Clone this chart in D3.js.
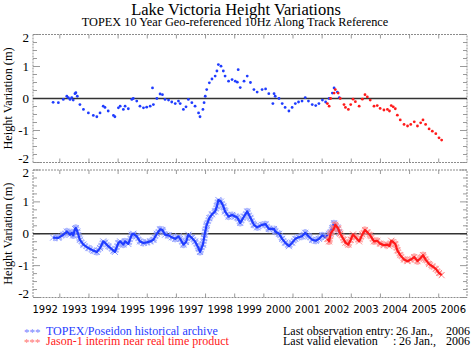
<!DOCTYPE html>
<html>
<head>
<meta charset="utf-8">
<script src="https://cdn.jsdelivr.net/npm/d3@7"></script>
<style>
  html, body { margin: 0; padding: 0; background: #fff; }
  svg { display: block; }
</style>
</head>
<body>
<svg id="chart" width="472" height="349"></svg>
<script>
// ---------------- DATA ----------------
const yearLabels = ["1992","1993","1994","1995","1996","1997","1998","1999","2000","2001","2002","2003","2004","2005","2006"];
const yTicks = [-2, -1, 0, 1, 2];

// TOPEX/Poseidon historical archive: [decimal year, height (m)]
const topex = [
  [1992.77,-0.12],[1992.95,-0.13],[1993.12,-0.03],[1993.24,0.07],[1993.29,0.03],[1993.35,-0.03],
  [1993.41,0.03],[1993.46,-0.05],[1993.52,0.15],[1993.55,0.18],[1993.60,0.07],[1993.69,-0.19],
  [1993.81,-0.34],[1993.98,-0.45],[1994.15,-0.53],[1994.27,-0.57],[1994.38,-0.45],[1994.49,-0.24],
  [1994.55,-0.28],[1994.66,-0.39],[1994.84,-0.53],[1994.89,-0.57],[1995.01,-0.29],[1995.07,-0.24],
  [1995.18,-0.34],[1995.24,-0.24],[1995.35,-0.32],[1995.47,-0.03],[1995.52,0.00],[1995.64,-0.08],
  [1995.75,-0.24],[1995.87,-0.29],[1995.98,-0.27],[1996.10,-0.24],[1996.21,-0.19],[1996.33,0.00],
  [1996.44,0.14],[1996.52,0.12],[1996.61,-0.03],[1996.73,-0.05],[1996.84,-0.11],[1996.96,-0.16],
  [1997.07,-0.08],[1997.13,-0.16],[1997.24,-0.34],[1997.33,-0.26],[1997.41,-0.03],[1997.53,-0.13],
  [1997.64,-0.24],[1997.76,-0.45],[1997.81,-0.57],[1997.91,-0.34],[1997.95,-0.13],[1997.99,0.07],
  [1998.04,0.28],[1998.13,0.49],[1998.22,0.61],[1998.33,0.70],[1998.39,0.86],[1998.44,1.06],
  [1998.53,1.01],[1998.61,0.86],[1998.67,0.70],[1998.79,0.54],[1998.91,0.59],[1999.02,0.54],
  [1999.09,0.51],[1999.19,0.34],[1999.32,0.54],[1999.43,0.70],[1999.54,0.50],[1999.66,0.28],
  [1999.77,0.20],[1999.94,0.28],[2000.06,0.30],[2000.17,0.15],[2000.35,0.15],[2000.39,0.07],
  [2000.52,0.00],[2000.63,-0.16],[2000.73,-0.28],[2000.86,-0.39],[2000.97,-0.28],[2001.08,-0.16],
  [2001.19,-0.11],[2001.31,-0.08],[2001.42,0.03],[2001.53,-0.08],[2001.66,-0.19],[2001.78,-0.22],
  [2001.89,-0.16],[2002.01,-0.05],[2002.12,-0.11],[2002.24,0.00],[2002.35,0.17],[2002.41,0.33],
  [2002.52,0.20],[2002.59,0.03]
];
// isolated TOPEX points shown only in the raw (upper) panel
const topexOutliers = [[1996.18,0.33],[1999.12,0.90],[2000.31,-0.16]];

// Jason-1 interim near real time product
const jason = [
  [2002.18,-0.16],[2002.24,-0.24],[2002.29,0.00],[2002.41,0.17],[2002.45,0.28],[2002.55,0.17],
  [2002.62,0.00],[2002.75,-0.19],[2002.80,-0.28],[2002.90,-0.34],[2002.98,-0.19],[2003.06,-0.02],
  [2003.14,-0.10],[2003.27,-0.24],[2003.38,-0.02],[2003.47,0.12],[2003.55,0.05],[2003.65,-0.05],
  [2003.78,-0.24],[2003.89,-0.22],[2003.99,-0.31],[2004.12,-0.36],[2004.24,-0.34],[2004.31,-0.39],
  [2004.37,-0.22],[2004.44,-0.26],[2004.51,-0.32],[2004.58,-0.52],[2004.68,-0.67],[2004.81,-0.81],
  [2004.93,-0.86],[2005.04,-0.81],[2005.16,-0.73],[2005.27,-0.86],[2005.38,-0.76],[2005.46,-0.67],
  [2005.55,-0.81],[2005.67,-0.95],[2005.78,-1.02],[2005.90,-1.10],[2006.01,-1.23],[2006.10,-1.30]
];

// ---------------- DRAW ----------------
const BLUE = "#1f3cff", RED = "#ff1a1a";
const svg = d3.select("#chart");
const serif = "'Liberation Serif', 'Times New Roman', serif";

const x = d3.scaleLinear().domain([1992.08, 2006.97]).range([33, 467]);

svg.append("text").attr("x", 236).attr("y", 15).attr("text-anchor", "middle")
  .attr("font-family", serif).attr("font-size", 16.5).text("Lake Victoria Height Variations");
svg.append("text").attr("x", 235).attr("y", 25.5).attr("text-anchor", "middle")
  .attr("font-family", serif).attr("font-size", 12.3).text("TOPEX 10 Year Geo-referenced 10Hz Along Track Reference");

function panel(top, bottom, mode) {
  const y = d3.scaleLinear().domain([-2, 2]).range([bottom, top]);
  const g = svg.append("g");
  const [x0, x1] = x.range();

  const quarter = d3.range(-2, 2.001, 0.25);
  quarter.forEach(v => {
    const major = Math.abs(v - Math.round(v)) < 1e-6;
    const len = major ? 7 : 4;
    [[x0, x0 + len], [x1, x1 - len]].forEach(([a, b]) => {
      g.append("line").attr("x1", a).attr("x2", b).attr("y1", y(v)).attr("y2", y(v))
        .attr("stroke", "#9a9a9a").attr("stroke-width", 1);
    });
  });
  d3.range(1993, 2007).forEach(t => {
    [[top, top + 4], [bottom, bottom - 4]].forEach(([a, b]) => {
      g.append("line").attr("x1", x(t)).attr("x2", x(t)).attr("y1", a).attr("y2", b)
        .attr("stroke", "#9a9a9a").attr("stroke-width", 1);
    });
  });
  g.append("rect").attr("x", x0).attr("y", top).attr("width", x1 - x0).attr("height", bottom - top)
    .attr("fill", "none").attr("stroke", "#8c8c8c").attr("stroke-width", 1).attr("stroke-dasharray", "2,1");

  const nudge = d => d === 2 ? 2.5 : d === -2 ? -4 : 0;
  g.selectAll(".yl").data(yTicks).enter().append("text")
    .attr("x", 29).attr("y", d => y(d) + 4.5 + nudge(d)).attr("text-anchor", "end")
    .attr("font-family", serif).attr("font-size", 13).text(d => d);

  g.append("text").attr("transform", `translate(12,${(top + bottom) / 2}) rotate(-90)`)
    .attr("text-anchor", "middle").attr("font-family", serif).attr("font-size", 12.3)
    .text("Height Variation (m)");

  g.append("line").attr("x1", x0).attr("x2", x1).attr("y1", y(0)).attr("y2", y(0))
    .attr("stroke", "#333").attr("stroke-width", 1.3);

  if (mode === "dots") {
    [[topex, BLUE], [topexOutliers, BLUE], [jason, RED]].forEach(([data, col]) => {
      g.selectAll(null).data(data).enter().append("circle")
        .attr("cx", d => x(d[0])).attr("cy", d => y(d[1])).attr("r", 1.4).attr("fill", col);
    });
  } else {
    const line = d3.line().x(d => x(d[0])).y(d => y(d[1]));
    [[topex, BLUE, "#8d9cff"], [jason, RED, "#ff8c8c"]].forEach(([data, col, light]) => {
      g.append("path").attr("d", line(data)).attr("fill", "none")
        .attr("stroke", light).attr("stroke-width", 7).attr("stroke-opacity", 0.7)
        .attr("stroke-dasharray", "2,1").attr("stroke-linejoin", "round");
      g.selectAll(null).data(data).enter().append("path")
        .attr("d", d => { const cx = x(d[0]), cy = y(d[1]), s = 3;
          return `M${cx - s},${cy - s}L${cx + s},${cy + s}M${cx - s},${cy + s}L${cx + s},${cy - s}`; })
        .attr("stroke", light).attr("stroke-width", 1);
      g.append("path").attr("d", line(data)).attr("fill", "none")
        .attr("stroke", col).attr("stroke-width", 2.2).attr("stroke-linejoin", "round");
    });
  }
  return y;
}

panel(34.5, 162.5, "dots");
panel(170, 297.5, "lines");

svg.selectAll(".xl").data(yearLabels).enter().append("text")
  .attr("x", d => x(+d + 0.5)).attr("y", 313).attr("text-anchor", "middle")
  .attr("font-family", "'DejaVu Sans', sans-serif").attr("font-size", 10).text(d => d);

const leg = [["TOPEX/Poseidon historical archive", BLUE, "#6f80ff", 335], ["Jason-1 interim near real time product", RED, "#ff7070", 345]];
leg.forEach(([txt, col, light, yy]) => {
  svg.append("text").attr("x", 24).attr("y", yy + 1).attr("font-family", serif).attr("font-size", 11)
    .attr("fill", light).text("***");
  svg.append("text").attr("x", 46).attr("y", yy).attr("font-family", serif).attr("font-size", 12)
    .attr("fill", col).text(txt);
});
const info = [["Last observation entry:", 335, null, 396], ["Last valid elevation", 345, 393, 399]];
info.forEach(([lab, yy, cx, dx]) => {
  svg.append("text").attr("x", 283).attr("y", yy).attr("font-family", serif).attr("font-size", 12).text(lab);
  if (cx !== null) svg.append("text").attr("x", cx).attr("y", yy).attr("font-family", serif).attr("font-size", 12).text(":");
  svg.append("text").attr("x", dx).attr("y", yy).attr("font-family", serif).attr("font-size", 12).text("26 Jan.,");
  svg.append("text").attr("x", 470).attr("y", yy).attr("text-anchor", "end").attr("font-family", serif).attr("font-size", 12).text("2006");
});
</script>
</body>
</html>
